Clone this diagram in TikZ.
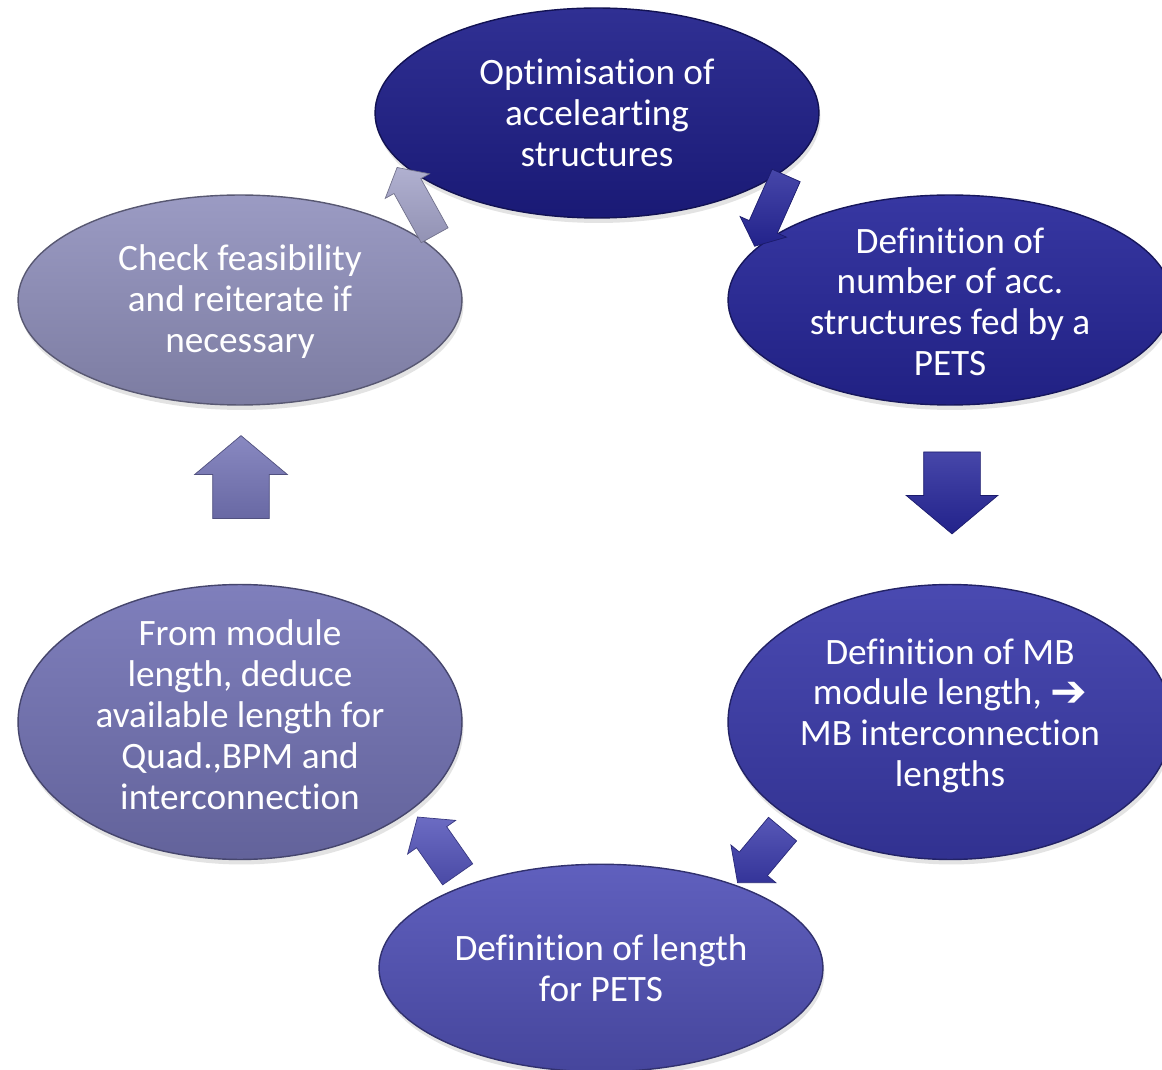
\documentclass[tikz,border=0pt]{standalone}
\usepackage{fontspec}
\setmainfont{Carlito}[Ligatures={NoCommon,NoContextual}]
\usetikzlibrary{shapes.geometric,shapes.arrows,shadows}

\definecolor{optimblue}{HTML}{1E1E8A}
\definecolor{naccblue}{HTML}{26269A}
\definecolor{modlenblue}{HTML}{3A3AAA}
\definecolor{petsblue}{HTML}{5252B8}
\definecolor{availblue}{HTML}{7474B6}
\definecolor{checkblue}{HTML}{9292BE}

\tikzset{
  stage/.style={ellipse, minimum width=8.88cm, minimum height=4.2cm,
    draw=#1!60!black, thick, top color=#1!92!white, bottom color=#1!85!black,
    drop shadow={opacity=.22, shadow xshift=.03cm, shadow yshift=-.1cm}},
  stagetext/.style={text=white, align=center, font=\fontsize{21.2}{23.3}\selectfont},
  turn/.style={single arrow, draw=#1!70!black, top color=#1!85!white,
    bottom color=#1!90!black, inner xsep=0pt, single arrow tip angle=100}
}

\begin{document}
\begin{tikzpicture}[x=0.02cm,y=-0.02cm]
  \clip (0,0) rectangle (1162,1070);
  \fill[white] (0,0) rectangle (1162,1070);

  % stages of the cycle
  \node[stage=optimblue] (optim) at (597,113) {};
  \node[stage=naccblue] (nacc) at (950,300) {};
  \node[stage=modlenblue, minimum height=5.5cm] (modlen) at (950,722) {};
  \node[stage=petsblue, minimum height=4.15cm] (petslen) at (601,968) {};
  \node[stage=availblue, minimum height=5.5cm] (avail) at (240,722) {};
  \node[stage=checkblue] (check) at (240,300) {};

  \node[stagetext] (optim-t) at (optim) {Optimisation of\\accelearting\\structures};
  \node[stagetext] (nacc-t) at ([yshift=-1]nacc.center) {Definition of\\number of acc.\\structures fed by a\\PETS};
  \node[stagetext] (modlen-t) at ([yshift=3.5]modlen.center) {Definition of MB\\module length, {\fontspec{DejaVu Sans}[Ligatures=NoCommon]\bfseries\fontsize{25}{23.3}\selectfont\raisebox{-.05ex}{➔}}\\MB interconnection\\lengths};
  \node[stagetext] (petslen-t) at (petslen) {Definition of length\\for PETS};
  \node[stagetext] (avail-t) at ([yshift=4]avail.center) {From module\\length, deduce\\available length for\\Quad.,BPM and\\interconnection};
  \node[stagetext] (check-t) at ([yshift=-1]check.center) {Check feasibility\\and reiterate if\\necessary};

  % arrows between the stages
  \node[turn=naccblue, minimum height=1.55cm, inner ysep=.3cm,
    single arrow head extend=.2cm, rotate=-114] (optim-nacc) at (773,205) {};
  \node[turn=naccblue, minimum height=1.64cm, inner ysep=.56cm,
    single arrow head extend=.35cm, rotate=-90] (nacc-modlen) at (952,481) {};
  \node[turn=modlenblue, minimum height=1.4cm, inner ysep=.36cm,
    single arrow head extend=.22cm, rotate=-130] (modlen-petslen) at (765,850) {};
  \node[turn=petsblue, minimum height=1.4cm, inner ysep=.36cm,
    single arrow head extend=.22cm, rotate=125] (petslen-avail) at (442,852) {};
  \node[turn=availblue, minimum height=1.66cm, inner ysep=.56cm,
    single arrow head extend=.36cm, rotate=90] (avail-check) at (241,489) {};
  \node[turn=checkblue!85!white, minimum height=1.55cm, inner ysep=.3cm,
    single arrow head extend=.2cm, rotate=119] (check-optim) at (419,207) {};
\end{tikzpicture}
\end{document}
